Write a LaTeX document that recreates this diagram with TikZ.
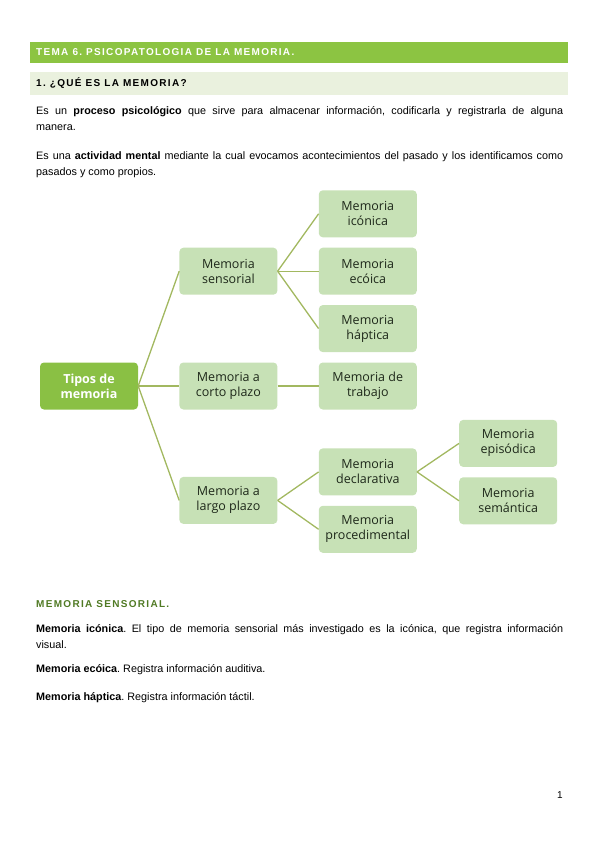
\documentclass[tikz,border=0pt]{standalone}
\usepackage{fontspec}
\setmainfont{Liberation Sans}
\newfontfamily\boxfont{Open Sans}
\usetikzlibrary{positioning}
\definecolor{bar}{RGB}{140,196,66}
\definecolor{barsoft}{RGB}{234,241,222}
\definecolor{rootfill}{RGB}{138,192,68}
\definecolor{leaf}{RGB}{199,225,182}
\definecolor{branch}{RGB}{162,184,96}
\definecolor{ink}{RGB}{30,40,26}
\definecolor{heading}{RGB}{80,122,36}

\begin{document}
\frenchspacing
\begin{tikzpicture}[
  x=1pt, y=-1pt,
  node distance=10pt and 41pt,
  box/.style={fill=leaf, rounded corners=4pt, minimum width=98pt, minimum height=47pt, inner sep=2pt, align=center, text=ink, font=\boxfont\fontsize{12.5}{15}\selectfont},
  rootbox/.style={box, fill=rootfill, text=white, font=\boxfont\bfseries\fontsize{12.5}{15}\selectfont},
  link/.style={draw=branch, line width=1.3pt},
  para/.style={anchor=base west, inner sep=0pt, text width=527pt, align=justify, font=\fontsize{10.8}{16}\selectfont},
  caps/.style={anchor=base west, inner sep=0pt, font=\bfseries\fontsize{10}{12}\selectfont\addfontfeature{LetterSpace=13}}
]
\useasboundingbox (0,0) rectangle (599,848);
\fill[bar] (30,42) rectangle (568,63);
\fill[barsoft] (30,72) rectangle (568,95);
\node[caps, text=white] (tema) at (36,56) {TEMA 6. PSICOPATOLOGIA DE LA MEMORIA.};
\node[caps] (pregunta) at (36,87) {1. ¿QUÉ ES LA MEMORIA?};
\node[para] (def1) at (36,115) {Es un \textbf{proceso psicológico} que sirve para almacenar información, codificarla y registrarla de alguna\linebreak manera.};
\node[para] (def2) at (36,159) {Es una \textbf{actividad mental} mediante la cual evocamos acontecimientos del pasado y los identificamos como\linebreak pasados y como propios.};

\node[rootbox] (tipos) at (89,386) {Tipos de\\memoria};
\node[box, right=of tipos] (corto) {Memoria a\\corto plazo};
\node[box, right=of corto] (trabajo) {Memoria de\\trabajo};
\node[box, above=of trabajo] (haptica) {Memoria\\háptica};
\node[box, above=of haptica] (ecoica) {Memoria\\ecóica};
\node[box, above=of ecoica] (iconica) {Memoria\\icónica};
\node[box, left=of ecoica] (sensorial) {Memoria\\sensorial};
\node[box, below=67pt of corto] (largo) {Memoria a\\largo plazo};
\node[box, right=of largo, yshift=28.5pt] (declarativa) {Memoria\\declarativa};
\node[box, below=of declarativa] (procedimental) {Memoria\\procedimental};
\node[box, right=42pt of declarativa, yshift=28.5pt] (episodica) {Memoria\\episódica};
\node[box, below=of episodica] (semantica) {Memoria\\semántica};
\draw[link] (tipos.east) -- (sensorial.west);
\draw[link] (tipos.east) -- (corto.west);
\draw[link] (tipos.east) -- (largo.west);
\draw[link] (sensorial.east) -- (iconica.west);
\draw[link] (sensorial.east) -- (ecoica.west);
\draw[link] (sensorial.east) -- (haptica.west);
\draw[link] (corto.east) -- (trabajo.west);
\draw[link] (largo.east) -- (declarativa.west);
\draw[link] (largo.east) -- (procedimental.west);
\draw[link] (declarativa.east) -- (episodica.west);
\draw[link] (declarativa.east) -- (semantica.west);

\node[caps, text=heading] (sensorialtit) at (36,607) {MEMORIA SENSORIAL.};
\node[para] (iconicadef) at (36,632.5) {\textbf{Memoria icónica}. El tipo de memoria sensorial más investigado es la icónica, que registra información\linebreak visual.};
\node[para] (ecoicadef) at (36,672.5) {\textbf{Memoria ecóica}. Registra información auditiva.};
\node[para] (hapticadef) at (36,700.5) {\textbf{Memoria háptica}. Registra información táctil.};
\node[anchor=base east, inner sep=0pt, font=\fontsize{10}{12}\selectfont] (pagina) at (563,798.5) {1};
\end{tikzpicture}
\end{document}
